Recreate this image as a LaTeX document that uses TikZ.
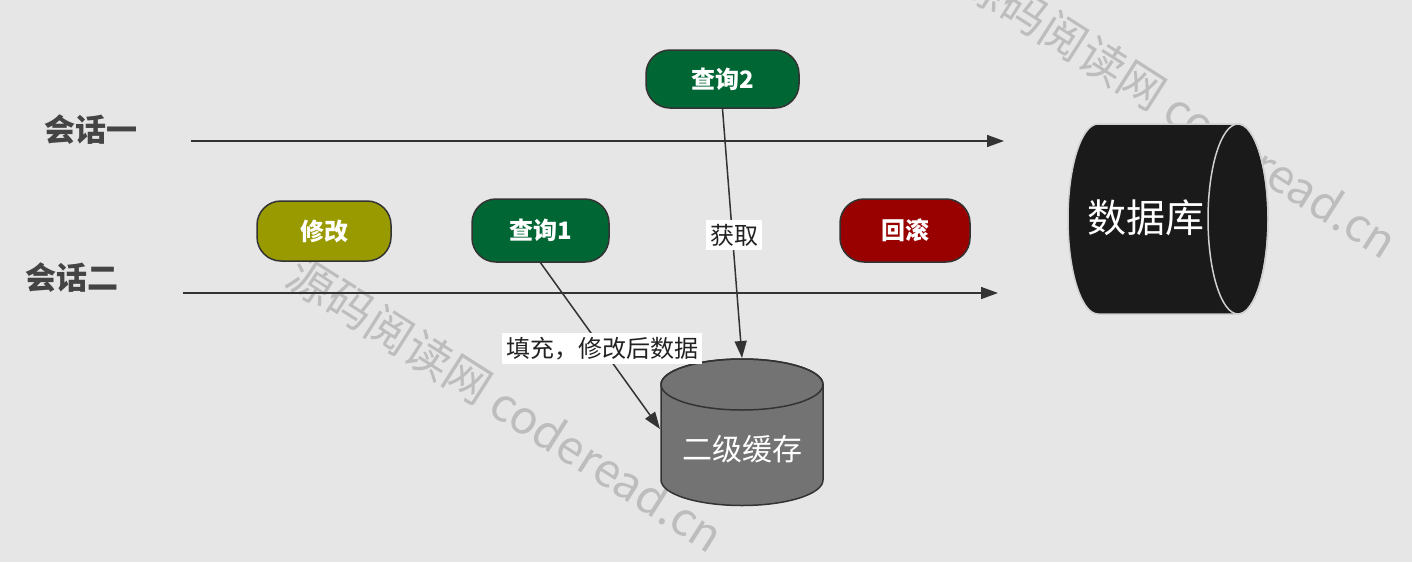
\documentclass[tikz,border=0pt]{standalone}
\usepackage{fontspec}
\setmainfont{Noto Sans CJK SC}
\usetikzlibrary{arrows.meta}
\definecolor{bg}{HTML}{E6E6E6}
\definecolor{linecol}{HTML}{333333}
\definecolor{sesscol}{HTML}{444444}
\definecolor{txt}{HTML}{222222}
\definecolor{wmcol}{HTML}{BDBDBD}
\definecolor{qgreen}{HTML}{006633}
\definecolor{olive}{HTML}{999900}
\definecolor{dred}{HTML}{990000}
\definecolor{cachegray}{HTML}{737373}
\definecolor{dbblack}{HTML}{1A1A1A}
\definecolor{dbedge}{HTML}{D0D0D0}
\tikzset{
 pill/.style={draw=linecol, line width=1.5pt, rounded corners=24pt, text=white, font=\bfseries\fontsize{24}{28}\selectfont, inner sep=0pt},
 arr/.style={draw=linecol, line width=1.5pt, -{Triangle[length=17pt,width=12pt]}},
 lbl/.style={fill=white, text=txt, font=\fontsize{24}{28}\selectfont, inner xsep=4pt, inner ysep=4pt},
 sess/.style={text=sesscol, font=\bfseries\fontsize{31}{35}\selectfont},
 wm/.style={text=wmcol, font=\fontsize{46}{50}\selectfont, rotate=-32.5, inner sep=0pt},
}
\begin{document}
\begin{tikzpicture}[x=1pt,y=-1pt]
\useasboundingbox (0,0) rectangle (1412,562);
\fill[bg] (0,0) rectangle (1412,562);
% watermarks
\node[wm] (wm1) at (506,404) {源码阅读网 coderead.cn};
\node[wm] (wm2) at (1180,110) {源码阅读网 coderead.cn};
% sessions
\node[sess] (sess1) at (90.5,130) {会话一};
\node[sess] (sess2) at (71.5,278) {会话二};
\coordinate (s1a) at (191,141);
\coordinate (s1b) at (1004,141);
\coordinate (s2a) at (183,293);
\coordinate (s2b) at (998,293);
\draw[arr] (s1a) -- (s1b);
\draw[arr] (s2a) -- (s2b);
% pills
\node[pill, fill=qgreen, minimum width=153pt, minimum height=58pt] (q2) at (722.5,79) {查询2};
\node[pill, fill=olive, minimum width=134pt, minimum height=60pt] (mod) at (324,231) {修改};
\node[pill, fill=qgreen, minimum width=137pt, minimum height=63pt] (q1) at (540.5,230.5) {查询1};
\node[pill, fill=dred, minimum width=130pt, minimum height=63pt] (rb) at (905,230.5) {回滚};
% cache cylinder
\path[draw=linecol, fill=cachegray, line width=1.5pt] (661,384.5) -- (661,480)
  arc[start angle=180, end angle=0, x radius=81, y radius=25.5] -- (823,384.5)
  arc[start angle=0, end angle=-180, x radius=81, y radius=25.5] -- cycle;
\draw[linecol, line width=1.5pt] (742,384.5) ellipse [x radius=81, y radius=25.5];
\node[text=white, font=\fontsize{30}{34}\selectfont] (cache) at (742,449) {二级缓存};
\coordinate (cacheTop) at (742,358);
\coordinate (cacheLeft) at (660,429);
% database cylinder
\path[draw=dbedge, fill=dbblack, line width=1.5pt] (1098,124) -- (1238,124)
  arc[start angle=-90, end angle=90, x radius=30, y radius=95] -- (1098,314)
  arc[start angle=90, end angle=270, x radius=30, y radius=95] -- cycle;
\draw[dbedge, line width=1.5pt] (1238,219) ellipse [x radius=30, y radius=95];
\node[text=white, font=\fontsize{39}{44}\selectfont] (db) at (1146,218) {数据库};
% connectors
\draw[arr] (q2.south) -- (cacheTop);
\draw[arr] (q1.south) -- (cacheLeft);
\node[lbl] (l1) at (734,235) {获取};
\node[lbl] (l2) at (602,348.5) {填充，修改后数据};
\end{tikzpicture}
\end{document}
